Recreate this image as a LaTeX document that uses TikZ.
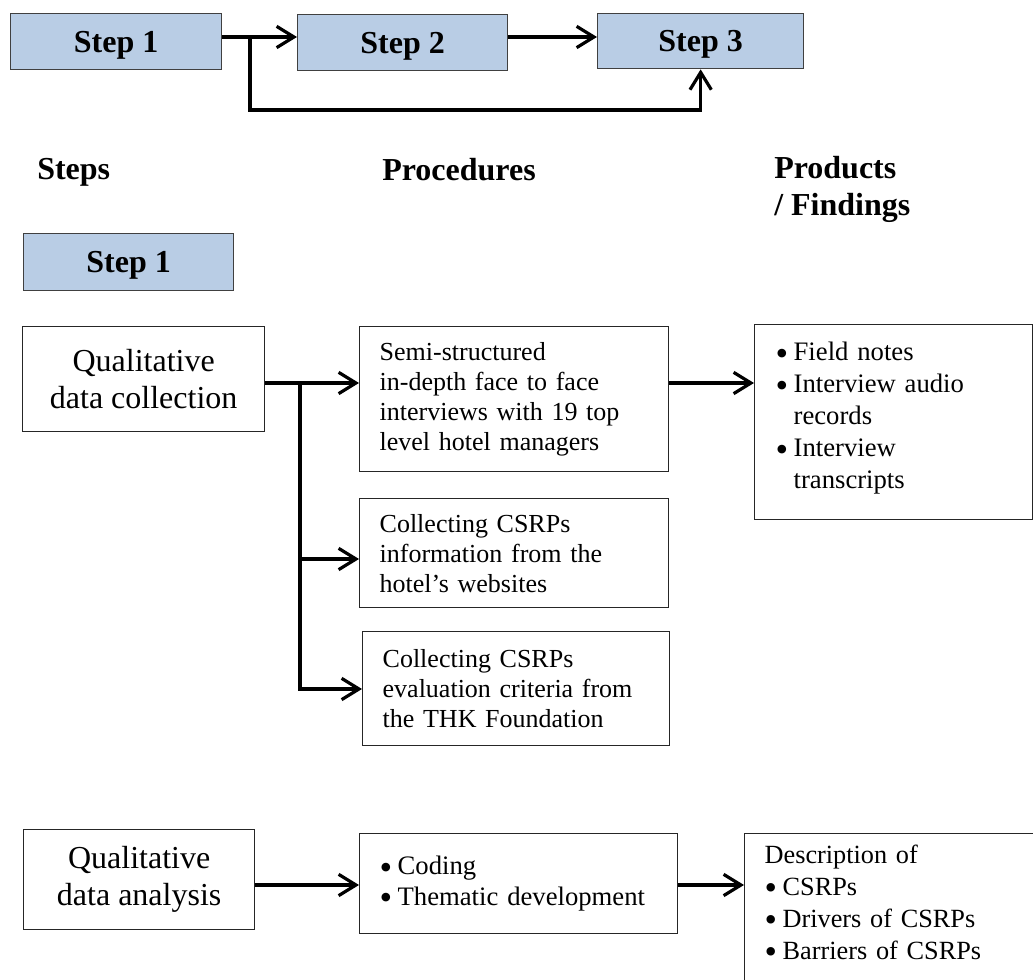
\documentclass[tikz,border=0pt]{standalone}
\usepackage{fontspec}
\setmainfont{Liberation Serif}
\usetikzlibrary{arrows.meta}
\definecolor{stepblue}{HTML}{B9CDE5}
% bullet with a fixed-width slot, and the matching hanging indent
\newcommand\bulitem{\makebox[13.5pt][l]{\smash{\raisebox{-3.4pt}{\scalebox{1.35}{\textbullet}}}}}
\newcommand\hang{\hspace*{13.5pt}}
\begin{document}
\begin{tikzpicture}[x=0.75pt,y=-0.75pt,
  stepbox/.style={draw=black!75, fill=stepblue, line width=1pt, anchor=north west,
    inner sep=0pt, text height=16pt, text depth=0pt,
    font=\fontsize{24}{28}\selectfont\bfseries},
  textbox/.style={draw=black!85, line width=1pt, anchor=north west, inner xsep=15pt,
    inner ysep=0pt, align=left, font=\fontsize{19.5}{22.5}\selectfont},
  bigbox/.style={draw=black!85, line width=1pt, anchor=north west, inner sep=0pt,
    align=center, font=\fontsize{24}{27.6}\selectfont},
  heading/.style={anchor=west, inner sep=0pt, align=left,
    font=\fontsize{24}{27.75}\selectfont\bfseries},
  arr/.style={line width=2.4pt, -{Straight Barb[length=13pt,width=16pt]}},
  link/.style={line width=2.4pt, line cap=rect}
]
\useasboundingbox (0,0) rectangle (1033,980);
\clip (0,0) rectangle (1033,980);

% ---- overview of the three steps ----
\node[stepbox, minimum width=158.25pt, minimum height=42pt] (s1top) at (10,13) {Step 1};
\node[stepbox, minimum width=157.5pt, minimum height=42pt] (s2top) at (297,14) {Step 2};
\node[stepbox, minimum width=154.5pt, minimum height=41.25pt] (s3top) at (597,13) {Step 3};

\coordinate (row) at (0,37);
\coordinate (fork) at (250,37);
\coordinate (loop) at (250,110);
\draw[arr] (s1top.east |- row) -- (s2top.west |- row);
\draw[arr] (s2top.east |- row) -- (s3top.west |- row);
\draw[arr] (fork) -- (loop) -| (s3top.south);

% ---- column headings ----
\node[heading] (hsteps) at (37,172) {Steps};
\node[heading] (hproc) at (382,170) {Procedures};
\node[heading, anchor=north west] (hprod) at (774,156) {Products\\/ Findings};

% ---- step 1: data collection ----
\node[stepbox, minimum width=157.5pt, minimum height=42.75pt] (s1mid) at (23,233) {Step 1};

\node[bigbox, minimum width=181.5pt, minimum height=78.75pt] (qdc) at (22,326)
  {Qualitative\\data collection};

\node[textbox, text width=201.75pt, minimum height=108.75pt] (semi) at (359,326)
  {Semi-structured\\in-depth face to face\\interviews with 19 top\\level hotel managers};

\node[textbox, text width=201.75pt, minimum height=81.75pt] (info) at (359,498)
  {Collecting CSRPs\\information from the\\hotel’s websites};

\node[textbox, text width=200.25pt, minimum height=85.5pt] (eval) at (362,631)
  {Collecting CSRPs\\evaluation criteria from\\the THK Foundation};

\node[textbox, inner xsep=15.75pt, text width=177pt, minimum height=146.25pt,
      font=\fontsize{20}{24}\selectfont] (field) at (754,324)
  {\bulitem Field notes\\\bulitem Interview audio\\\hang records\\\bulitem Interview\\\hang transcripts\vspace*{6pt}};

\coordinate (split) at (300,383);
\coordinate (b2) at (300,559);
\coordinate (b3) at (300,689);
\draw[arr] (qdc.east |- split) -- (semi.west |- split);
\draw[link] (split) -- (b3);
\draw[arr] (b2) -- (info.west |- b2);
\draw[arr] (b3) -- (eval.west |- b3);
\draw[arr] (semi.east |- split) -- (field.west |- split);

% ---- data analysis ----
\node[bigbox, minimum width=173.25pt, minimum height=75pt] (qda) at (23,829)
  {Qualitative\\data analysis};

\node[textbox, text width=208.5pt, minimum height=75pt,
      font=\fontsize{20}{23}\selectfont] (coding) at (359,833)
  {\bulitem Coding\\\bulitem Thematic development};

\node[textbox, inner ysep=8.25pt, text width=195pt,
      font=\fontsize{19.7}{24}\selectfont] (desc) at (744,833)
  {Description of\\\bulitem CSRPs\\\bulitem Drivers of CSRPs\\\bulitem Barriers of CSRPs\vspace*{24pt}};

\coordinate (row3) at (0,885);
\draw[arr] (qda.east |- row3) -- (coding.west |- row3);
\draw[arr] (coding.east |- row3) -- (desc.west |- row3);
\end{tikzpicture}
\end{document}
